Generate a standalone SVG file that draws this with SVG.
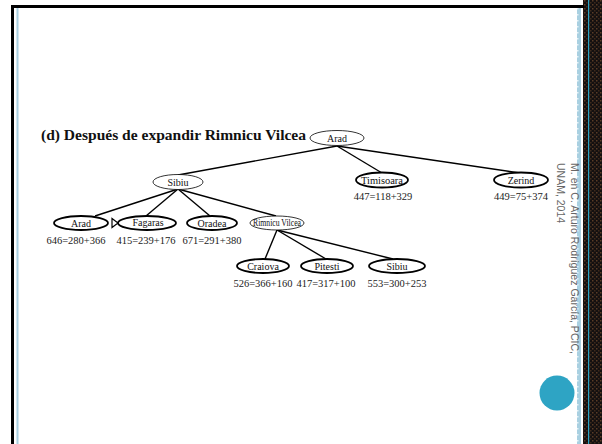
<svg xmlns="http://www.w3.org/2000/svg" width="602" height="444" viewBox="0 0 602 444">
<style>
.thin{fill:#fff;stroke:#000;stroke-width:0.8}
.thick{fill:#fff;stroke:#000;stroke-width:1.8}
.nt{font-family:"Liberation Serif","Times New Roman",serif;font-size:10px;fill:#111;text-anchor:middle}
.lb{font-family:"Liberation Serif","Times New Roman",serif;font-size:10.5px;fill:#222;text-anchor:middle}
.edge{stroke:#000;stroke-width:1.4;fill:none}
.side{font-family:"Liberation Sans",Arial,sans-serif;font-size:10.5px;fill:#666}
</style>
<defs>
<pattern id="dark" width="4" height="4" patternUnits="userSpaceOnUse">
<rect width="4" height="4" fill="#141010"/>
<rect x="0" y="0" width="1.5" height="1.5" fill="#5a3c26"/>
<rect x="2" y="2" width="1.5" height="1.5" fill="#3e2a1c"/>
</pattern>
<pattern id="blue" width="4" height="6" patternUnits="userSpaceOnUse">
<rect width="4" height="6" fill="#a9d0e1"/>
<rect x="1" y="2" width="1.5" height="1.5" fill="#e6f2f7"/>
</pattern>
</defs>
<rect width="602" height="444" fill="#fff"/>
<g id="frame">
<rect x="583" y="0" width="19" height="444" fill="url(#dark)"/>
<rect x="588" y="0" width="1.2" height="444" fill="#2ba3c3"/>
<rect x="577" y="7" width="4" height="437" fill="url(#blue)"/>
<rect x="11" y="5" width="573" height="3" fill="#000"/>
<rect x="11" y="5" width="3" height="439" fill="#000"/>
<rect x="16.5" y="8" width="2" height="436" fill="#a9d0e1"/>
<circle cx="557" cy="393" r="17.5" fill="#2ea4c4"/>
<text class="side" transform="translate(571,163) rotate(90)" textLength="191" lengthAdjust="spacingAndGlyphs">M. en C. Arturo Rodríguez García, PCIC,</text>
<text class="side" transform="translate(557,163) rotate(90)">UNAM, 2014</text>
</g>
<text id="title" x="41" y="139.5" font-family="'Liberation Serif','Times New Roman',serif" font-weight="bold" font-size="15.5" textLength="265" lengthAdjust="spacingAndGlyphs" fill="#111">(d) Después de expandir Rimnicu Vilcea</text>
<g id="connectors">
<line class="edge" x1="337" y1="146" x2="178" y2="175"/>
<line class="edge" x1="337" y1="146" x2="382" y2="173"/>
<line class="edge" x1="337" y1="146" x2="520" y2="173"/>
<line class="edge" x1="178" y1="189" x2="95" y2="216"/>
<line class="edge" x1="178" y1="189" x2="146" y2="216"/>
<line class="edge" x1="178" y1="189" x2="210" y2="216"/>
<line class="edge" x1="178" y1="189" x2="276" y2="216"/>
<line class="edge" x1="277" y1="230" x2="265" y2="259"/>
<line class="edge" x1="277" y1="230" x2="326" y2="259"/>
<line class="edge" x1="277" y1="230" x2="393" y2="259"/>
<polygon points="112,218.5 112,227.5 118,223" fill="#fff" stroke="#000" stroke-width="1.2"/>
</g>
<g id="n-arad-root"><ellipse class="thin" cx="337" cy="138" rx="27" ry="7.5"/><text class="nt" x="337" y="141.5">Arad</text></g>
<g id="n-sibiu"><ellipse class="thin" cx="178" cy="182" rx="25" ry="7.5"/><text class="nt" x="178" y="185.5">Sibiu</text></g>
<g id="n-timisoara"><ellipse class="thick" cx="382" cy="180" rx="26" ry="7.5"/><text class="nt" x="382" y="183.5" textLength="42" lengthAdjust="spacingAndGlyphs">Timisoara</text><text class="lb" x="383" y="200">447=118+329</text></g>
<g id="n-zerind"><ellipse class="thick" cx="521" cy="180" rx="27" ry="7.5"/><text class="nt" x="521" y="183.5">Zerind</text><text class="lb" x="521" y="200">449=75+374</text></g>
<g id="n-arad"><ellipse class="thick" cx="81" cy="223" rx="27" ry="7"/><text class="nt" x="81" y="226.5">Arad</text><text class="lb" x="76" y="244">646=280+366</text></g>
<g id="n-fagaras"><ellipse class="thick" cx="147" cy="223" rx="29" ry="7"/><text class="nt" x="148" y="226">Fagaras</text><text class="lb" x="146" y="244">415=239+176</text></g>
<g id="n-oradea"><ellipse class="thick" cx="212" cy="223" rx="25" ry="7"/><text class="nt" x="212" y="226.5">Oradea</text><text class="lb" x="212" y="244">671=291+380</text></g>
<g id="n-rimnicu"><ellipse class="thin" cx="277" cy="223" rx="27" ry="7"/><text class="nt" x="277" y="225.8" font-size="7.5" textLength="48" lengthAdjust="spacingAndGlyphs">Rimnicu Vilcea</text></g>
<g id="n-craiova"><ellipse class="thick" cx="263" cy="266" rx="26" ry="7"/><text class="nt" x="263" y="269.5">Craiova</text><text class="lb" x="263" y="287">526=366+160</text></g>
<g id="n-pitesti"><ellipse class="thick" cx="327" cy="266" rx="26" ry="7"/><text class="nt" x="327" y="269.5">Pitesti</text><text class="lb" x="326" y="287">417=317+100</text></g>
<g id="n-sibiu2"><ellipse class="thick" cx="397" cy="266" rx="28" ry="7"/><text class="nt" x="397" y="269.5">Sibiu</text><text class="lb" x="397" y="287">553=300+253</text></g>
</svg>
